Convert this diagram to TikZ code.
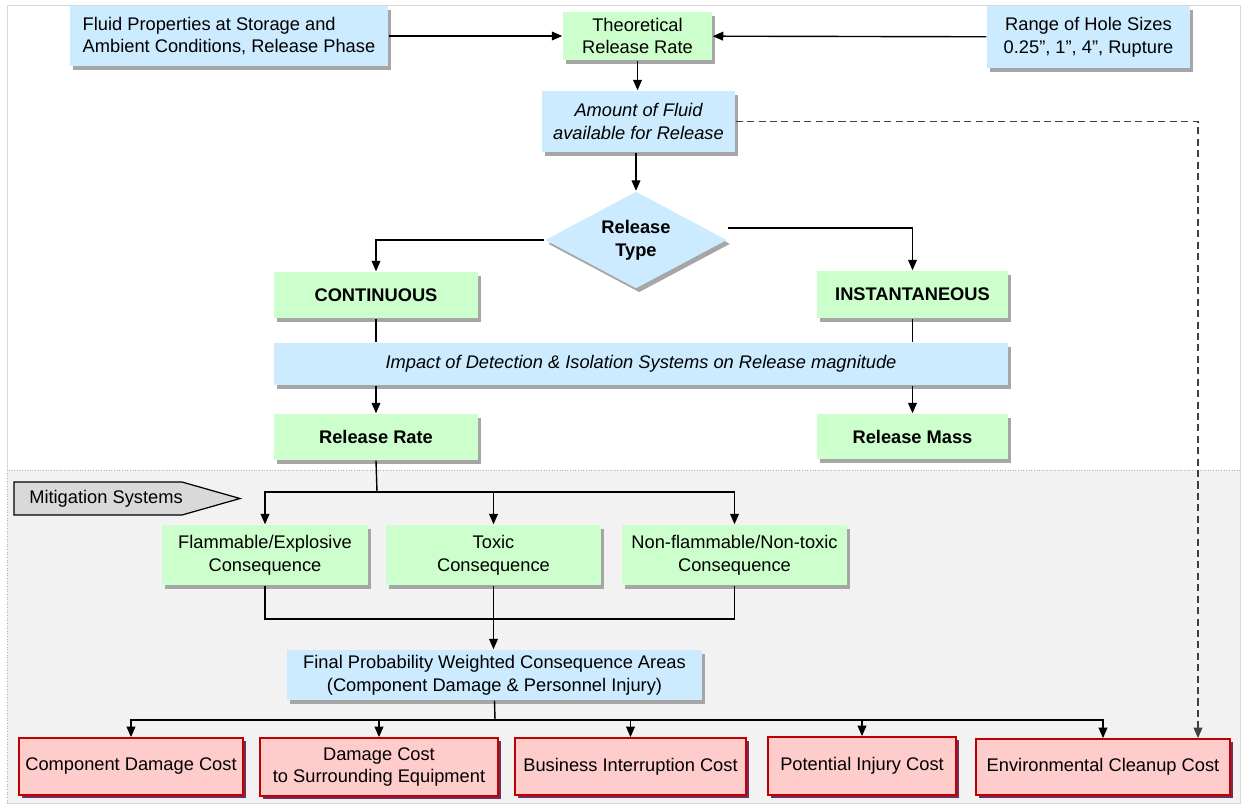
\documentclass[tikz,border=0pt]{standalone}
\usepackage{fontspec}
\setmainfont{Liberation Sans}
\usetikzlibrary{arrows.meta,positioning,shapes.geometric,shadows}

\definecolor{boxblue}{HTML}{CCEBFF}
\definecolor{boxgreen}{HTML}{CCFFCC}
\definecolor{boxred}{HTML}{FFCCCC}
\definecolor{redline}{HTML}{C00000}
\definecolor{redshade}{HTML}{70305F}
\definecolor{zonegray}{HTML}{F2F2F2}
\newcommand{\pxu}{0.02cm}
\newcommand{\diagfont}{\fontsize{10.4}{13}\selectfont}

\begin{document}
\begin{tikzpicture}[x=0.02cm,y=-0.02cm,line width=0.8pt,
    >={Triangle[length=6pt,width=5pt]},
    sz/.style 2 args={minimum width=#1*\pxu,minimum height=#2*\pxu},
    blubox/.style={fill=boxblue,inner sep=0pt,align=center,font=\diagfont,
        drop shadow={shadow xshift=1.8pt,shadow yshift=-2.2pt,fill=gray!70,opacity=1}},
    grnbox/.style={fill=boxgreen,inner sep=0pt,align=center,font=\diagfont,
        drop shadow={shadow xshift=1.8pt,shadow yshift=-2.2pt,fill=gray!70,opacity=1}},
    redbox/.style={draw=redline,line width=1pt,fill=boxred,inner sep=0pt,align=center,font=\diagfont,
        drop shadow={shadow xshift=1.5pt,shadow yshift=-1.5pt,fill=redshade,opacity=1}},
    dashlink/.style={dash pattern=on 4pt off 2.5pt,draw=black!75,line width=0.7pt}]
\useasboundingbox (0,0) rectangle (1244,806);

% frame and mitigation zone
\draw[gray!30,line width=0.5pt] (7,5) rectangle (1240,803);
\fill[zonegray] (7,470) rectangle (1240,803);
\draw[gray!60,densely dotted,line width=0.5pt] (7,803) -- (7,470) -- (1240,470);

% release
\node[blubox,sz={318}{60},align=left] (fluid) at (229,36) {Fluid Properties at Storage and\\Ambient Conditions, Release Phase};
\node[grnbox,sz={149}{48}] (theo) at (637.5,36) {Theoretical\\Release Rate};
\node[blubox,sz={203}{62}] (range) at (1088.5,37) {Range of Hole Sizes\\0.25”, 1”, 4”, Rupture};
\node[blubox,sz={193}{61},font=\diagfont\itshape] (amount) at (638.5,121.5) {Amount of Fluid\\available for Release};
\node[diamond,fill=boxblue,sz={182}{97},aspect=1.9,inner sep=0pt,align=center,font=\diagfont\bfseries,
    drop shadow={shadow xshift=1.8pt,shadow yshift=-2.2pt,fill=gray!70,opacity=1}] (rtype) at (636,240) {Release\\Type};
\node[grnbox,sz={204}{46},font=\diagfont\bfseries] (cont) at (376,295) {CONTINUOUS};
\node[grnbox,sz={191}{47},font=\diagfont\bfseries] (inst) at (912.5,294.5) {INSTANTANEOUS};
\node[blubox,sz={734}{42},font=\diagfont\itshape] (impact) at (641,364) {Impact of Detection \& Isolation Systems on Release magnitude};
\node[grnbox,sz={204}{46},font=\diagfont\bfseries] (rrate) at (376,437) {Release Rate};
\node[grnbox,sz={191}{45},font=\diagfont\bfseries] (rmass) at (912.5,436.5) {Release Mass};

% consequences
\draw[fill=gray!30,line width=0.7pt] (14,482) -- (182,482) -- (240,498.5) -- (182,515) -- (14,515) -- cycle;
\node[font=\diagfont] (mitig) at (106,498.5) {Mitigation Systems};
\node[grnbox,sz={206}{60}] (flam) at (265,555) {Flammable/Explosive\\Consequence};
\node[grnbox,sz={215}{60}] (toxic) at (493.5,555) {Toxic\\Consequence};
\node[grnbox,sz={225}{60}] (nonf) at (734.5,555) {Non-flammable/Non-toxic\\Consequence};
\node[blubox,sz={415}{50}] (final) at (494.5,675) {Final Probability Weighted Consequence Areas\\(Component Damage \& Personnel Injury)};

% costs
\node[redbox,sz={224}{57}] (compcost) at (131,766.5) {Component Damage Cost};
\node[redbox,sz={238}{58}] (equipcost) at (379,767) {Damage Cost\\to Surrounding Equipment};
\node[redbox,sz={231}{57}] (buscost) at (630.5,766.5) {Business Interruption Cost};
\node[redbox,sz={188}{58}] (injcost) at (862,766) {Potential Injury Cost};
\node[redbox,sz={254}{56}] (envcost) at (1103,767) {Environmental Cleanup Cost};

\coordinate (csplit) at (377,492);
\coordinate (cjoin) at (493,619);
\coordinate (fsplit) at (495,720);

\draw[->] (fluid) -- (theo);
\draw[->] (range) -- (theo);
\draw[->] (theo.south) -- (theo.south |- amount.north);
\draw[->] (amount.south -| rtype) -- (rtype.north);
\draw[dashlink,->] (amount.east) -| ([xshift=1.9cm]envcost.north);
\draw[->] (rtype.west) -| (cont.north);
\draw[->] ([yshift=0.24cm]rtype.east) -| (inst.north);
\draw (cont.south) -- (cont.south |- impact.north);
\draw (inst.south) -- (inst.south |- impact.north);
\draw[->] (impact.south -| rrate) -- (rrate.north);
\draw[->] (impact.south -| rmass) -- (rmass.north);
\draw (rrate.south) -- (csplit);
\draw[->] (csplit) -| (flam.north);
\draw[->] (csplit) -| (toxic.north);
\draw[->] (csplit) -| (nonf.north);
\draw (flam.south) |- (cjoin) -| (nonf.south);
\draw[->] (toxic.south) -- (toxic.south |- final.north);
\draw (final.south) -- (fsplit);
\foreach \c in {compcost,equipcost,buscost,injcost,envcost}
    \draw[->] (fsplit) -| (\c.north);
\end{tikzpicture}
\end{document}
